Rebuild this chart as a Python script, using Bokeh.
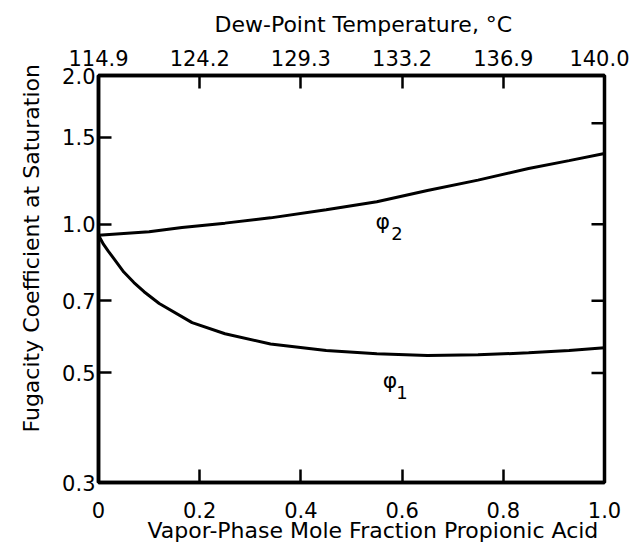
import math
from bokeh.plotting import figure
from bokeh.models import LinearAxis, FixedTicker, CustomJSTickFormatter, Range1d, Title
from bokeh.core.properties import value
from bokeh.embed import file_html
from bokeh.resources import INLINE

# --- data ---
x_phi1 = [0.0, 0.01, 0.02, 0.03, 0.05, 0.07, 0.09, 0.12, 0.185, 0.25, 0.34, 0.45, 0.55, 0.65, 0.75, 0.85, 0.93, 1.0]
phi1 = [0.95, 0.91, 0.88, 0.853, 0.80, 0.762, 0.73, 0.691, 0.632, 0.60, 0.572, 0.555, 0.547, 0.542, 0.544, 0.549, 0.555, 0.562]

x_phi2 = [0.0, 0.1, 0.165, 0.25, 0.34, 0.45, 0.55, 0.65, 0.75, 0.85, 0.93, 1.0]
phi2 = [0.95, 0.965, 0.985, 1.005, 1.03, 1.07, 1.11, 1.17, 1.228, 1.296, 1.345, 1.39]

x_ticks = [0.0, 0.2, 0.4, 0.6, 0.8, 1.0]
x_labels = ["0", "0.2", "0.4", "0.6", "0.8", "1.0"]
dew_labels = ["114.9", "124.2", "129.3", "133.2", "136.9", "140.0"]
y_ticks = [0.3, 0.5, 0.7, 1.0, 1.5, 2.0]
y_labels = ["0.3", "0.5", "0.7", "1.0", "1.5", "2.0"]
right_ticks = [0.5, 0.7, 1.0, 1.6]

x_title = "Vapor-Phase Mole Fraction Propionic Acid"
y_title = "Fugacity Coefficient at Saturation"
top_title = "Dew-Point Temperature, \u00b0C"

FONT = "DejaVu Sans"
TICK_FS = "21px"
TITLE_FS = "22px"

p = figure(width=629, height=554, x_range=Range1d(0, 1), y_range=Range1d(0.3, 2.0),
           y_axis_type="log", output_backend="svg", toolbar_location=None,
           min_border_left=96, min_border_right=25, min_border_top=75, min_border_bottom=72,
           background_fill_color="white", border_fill_color="white")

p.xgrid.visible = False
p.ygrid.visible = False
p.outline_line_color = "black"
p.outline_line_width = 3.5

pick = """
let best = 0;
for (let i = 0; i < tvals.length; i++) {
  if (Math.abs(tvals[i] - tick) < Math.abs(tvals[best] - tick)) best = i;
}
return labs[best];
"""

def style(ax):
    ax.axis_line_width = 3.5
    ax.axis_line_color = "black"
    ax.major_tick_in = 13
    ax.major_tick_out = 0
    ax.major_tick_line_width = 2.5
    ax.major_tick_line_color = "black"
    ax.minor_tick_line_color = None
    ax.major_label_text_font = FONT
    ax.major_label_text_font_size = TICK_FS
    ax.major_label_text_color = "black"

# bottom axis
xa = p.xaxis[0]
xa.ticker = FixedTicker(ticks=x_ticks)
xa.formatter = CustomJSTickFormatter(args=dict(labs=x_labels, tvals=x_ticks), code=pick)
style(xa)
xa.major_label_standoff = 19

# left axis
ya = p.yaxis[0]
ya.ticker = FixedTicker(ticks=y_ticks)
ya.formatter = CustomJSTickFormatter(args=dict(labs=y_labels, tvals=y_ticks), code=pick)
style(ya)
ya.major_label_standoff = 3

# top axis
top = LinearAxis(ticker=FixedTicker(ticks=x_ticks),
                 formatter=CustomJSTickFormatter(args=dict(labs=dew_labels, tvals=x_ticks), code=pick))
style(top)
top.major_label_standoff = 10
p.add_layout(top, "above")

# right-side inward ticks
p.ray(x=[x_ticks[-1]] * len(right_ticks), y=right_ticks, length=13, angle=math.pi,
      length_units="screen", line_color="black", line_width=2.5)

# titles
def title(text, offset, standoff):
    return Title(text=text, align="left", offset=offset, text_font=FONT,
                 text_font_size=TITLE_FS, text_font_style="normal", text_color="black",
                 standoff=standoff)

p.add_layout(title(x_title, 49, -10), "below")
p.add_layout(title(top_title, 116, 19), "above")
p.add_layout(title(y_title, 50, 32), "left")

# curves
p.line(x_phi1, phi1, line_color="black", line_width=3)
p.line(x_phi2, phi2, line_color="black", line_width=3)

# curve labels
p.text(x=[0.562], y=[1.0126], text=["\u03c6"], text_font=value(FONT), text_font_size="22px",
       text_align="center", text_baseline="middle", text_color="black")
p.text(x=[0.562], y=[1.0126], text=["2"], text_font=value(FONT), text_font_size="18px",
       text_align="center", text_baseline="middle", text_color="black", x_offset=14, y_offset=12)
p.text(x=[0.576], y=[0.4827], text=["\u03c6"], text_font=value(FONT), text_font_size="22px",
       text_align="center", text_baseline="middle", text_color="black")
p.text(x=[0.576], y=[0.4827], text=["1"], text_font=value(FONT), text_font_size="18px",
       text_align="center", text_baseline="middle", text_color="black", x_offset=12, y_offset=12)

open("out.html", "w").write(file_html(p, INLINE))
